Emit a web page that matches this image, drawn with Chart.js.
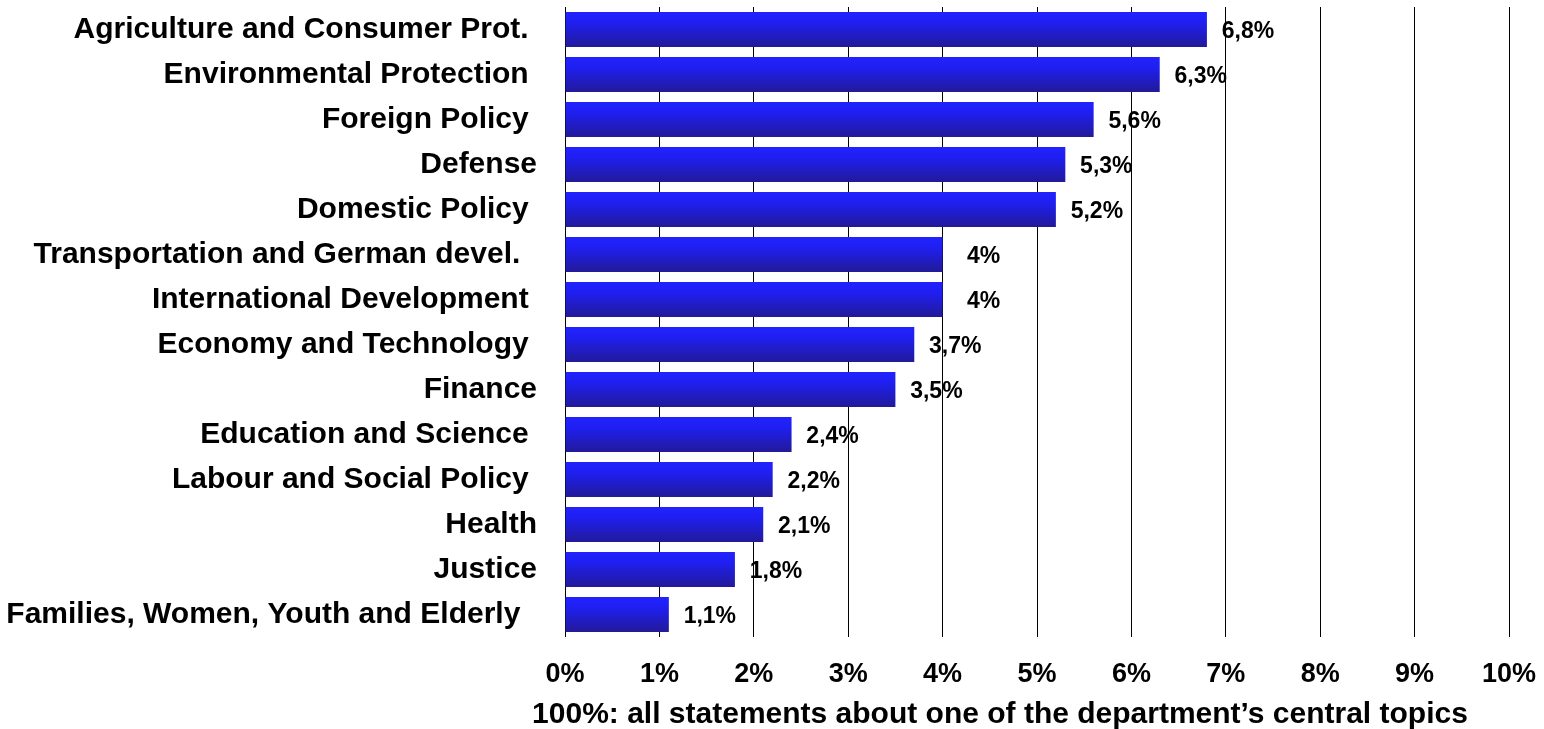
<!DOCTYPE html>
<html>
<head>
<meta charset="utf-8">
<script src="https://cdn.jsdelivr.net/npm/chart.js@4/dist/chart.umd.min.js"></script>
<style>
  html, body { margin: 0; padding: 0; background: #fff; }
  #chart { display: block; }
</style>
</head>
<body>
<canvas id="chart" width="1544" height="729"></canvas>
<script>
// departments, share of statements (in %)
const departments = [
  'Agriculture and Consumer Prot. ',
  'Environmental Protection ',
  'Foreign Policy ',
  'Defense',
  'Domestic Policy ',
  'Transportation and German devel.  ',
  'International Development ',
  'Economy and Technology ',
  'Finance',
  'Education and Science ',
  'Labour and Social Policy ',
  'Health',
  'Justice',
  'Families, Women, Youth and Elderly  '
];
const shares = [6.8, 6.3, 5.6, 5.3, 5.2, 4, 4, 3.7, 3.5, 2.4, 2.2, 2.1, 1.8, 1.1];
const xTicks = [0, 1, 2, 3, 4, 5, 6, 7, 8, 9, 10];
const caption = '100%: all statements about one of the department\u2019s central topics';

const FONT = '"Liberation Sans", Arial, Helvetica, sans-serif';

// vertical blue gradient for each bar, built from its own band on the y scale
function barFill(context) {
  const chart = context.chart;
  const yScale = chart.scales.y;
  if (!chart.chartArea || !yScale) return '#2020f0';
  const yc = yScale.getPixelForValue(context.dataIndex);
  const half = (yScale.height / departments.length) * 0.78 / 2;
  const g = chart.ctx.createLinearGradient(0, yc - half, 0, yc + half);
  g.addColorStop(0, '#2222ff');
  g.addColorStop(0.3, '#1f1ff2');
  g.addColorStop(1, '#221a98');
  return g;
}

// value labels to the right of each bar, e.g. "6,8%"
const valueLabels = {
  id: 'valueLabels',
  afterDatasetsDraw(chart) {
    const ctx = chart.ctx;
    const meta = chart.getDatasetMeta(0);
    ctx.save();
    ctx.font = 'bold 23px ' + FONT;
    ctx.fillStyle = '#000';
    ctx.textAlign = 'center';
    ctx.textBaseline = 'middle';
    meta.data.forEach((bar, i) => {
      const txt = String(shares[i]).replace('.', ',') + '%';
      ctx.fillText(txt, bar.x + 41, bar.y + 2);
    });
    ctx.restore();
  }
};

// caption under the x axis
const captionLine = {
  id: 'captionLine',
  afterDraw(chart) {
    const ctx = chart.ctx;
    ctx.save();
    ctx.font = 'bold 30px ' + FONT;
    ctx.fillStyle = '#000';
    ctx.textAlign = 'center';
    ctx.textBaseline = 'middle';
    ctx.fillText(caption, 1000, 715);
    ctx.restore();
  }
};

const ctx = document.getElementById('chart');
new Chart(ctx, {
  type: 'bar',
  data: {
    labels: departments,
    datasets: [{
      data: shares,
      backgroundColor: barFill,
      borderWidth: 0,
      barPercentage: 0.78,
      categoryPercentage: 1
    }]
  },
  options: {
    indexAxis: 'y',
    responsive: false,
    animation: false,
    layout: { padding: { left: 0, top: 7, right: 35, bottom: 42 } },
    plugins: {
      legend: { display: false },
      tooltip: { enabled: false }
    },
    scales: {
      x: {
        min: 0,
        max: 10,
        afterBuildTicks(scale) {
          scale.ticks = xTicks.map(v => ({ value: v }));
        },
        afterFit(scale) {
          scale.height = 50;
          scale.paddingLeft = 0;
          scale.paddingRight = 0;
        },
        grid: { color: '#000', lineWidth: 1, drawTicks: false },
        border: { display: false },
        ticks: {
          color: '#000',
          padding: 21,
          maxRotation: 0,
          font: { family: FONT, size: 27, weight: 'bold' },
          callback: v => v + '%'
        }
      },
      y: {
        afterFit(scale) {
          scale.width = 565;
          scale.paddingTop = 0;
          scale.paddingBottom = 0;
        },
        grid: { display: false, drawTicks: false },
        border: { display: false },
        ticks: {
          color: '#000',
          padding: 28,
          autoSkip: false,
          font: { family: FONT, size: 30, weight: 'bold' }
        }
      }
    }
  },
  plugins: [valueLabels, captionLine]
});
</script>
</body>
</html>
